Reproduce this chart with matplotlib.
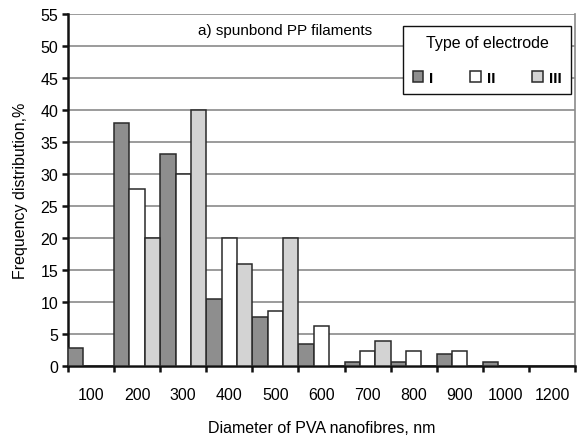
import matplotlib.pyplot as plt
import numpy as np
from matplotlib.patches import Patch

plt.rcParams['font.family'] = ['Liberation Sans', 'DejaVu Sans']

# diameter classes (nm) and frequency (%) per electrode type
diameters = ['100', '200', '300', '400', '500', '600', '700', '800', '900', '1000', '1200']
type_I = [2.8, 38.0, 33.2, 10.5, 7.7, 3.4, 0.7, 0.7, 1.9, 0.7, 0]
type_II = [0, 27.6, 30.0, 20.0, 8.6, 6.3, 2.4, 2.4, 2.4, 0, 0]
type_III = [0, 20.0, 40.0, 16.0, 20.0, 0, 3.9, 0, 0, 0, 0]
series_labels = ['I', 'II', 'III']

fig = plt.figure(figsize=(5.79, 4.39), dpi=100)
ax = fig.add_axes([68 / 579, 1 - 367 / 439, 507 / 579, 352 / 439])

n = len(diameters)
x = np.arange(n)
w = 1 / 3
colors = ['#8e8e8e', 'white', '#d3d3d3']
for i, (vals, col) in enumerate(zip([type_I, type_II, type_III], colors)):
    ax.bar(x + i * w, vals, width=w, align='edge', color=col,
           edgecolor='#2a2a2a', linewidth=1.1, zorder=3)

ax.set_xlim(0, n)
ax.set_ylim(0, 55)
ax.set_yticks(np.arange(0, 56, 5))
ax.yaxis.grid(True, color='#8a8a8a', linewidth=1.2, zorder=0)
ax.set_axisbelow(True)

# boundary ticks without labels, labels at category centres
ax.set_xticks(np.arange(0, n + 1))
ax.set_xticklabels([])
ax.set_xticks(x + 0.5, minor=True)
ax.set_xticklabels(diameters, minor=True, fontsize=11.5)
ax.tick_params(axis='x', which='major', length=4, width=1.8, color='#111111')
ax.tick_params(axis='x', which='minor', length=0, pad=15)
ax.tick_params(axis='y', length=4, width=1.8, color='#111111', labelsize=11.5, pad=3)

for s in ['left', 'bottom']:
    ax.spines[s].set_linewidth(1.8)
    ax.spines[s].set_color('#111111')
ax.spines['top'].set_visible(False)
ax.spines['right'].set_color('#8a8a8a')
ax.spines['right'].set_linewidth(1.2)

ax.set_xlabel('Diameter of PVA nanofibres, nm', fontsize=11.5, labelpad=13)
ax.set_ylabel('Frequency distribution,%', fontsize=11.5, labelpad=9)

ax.text(4.72, 52.5, 'a) spunbond PP filaments', ha='center', va='center', fontsize=11)

handles = [Patch(facecolor=c, edgecolor='#2a2a2a', linewidth=1.1) for c in colors]
leg = ax.legend(handles, series_labels, title='Type of electrode', ncol=3,
                loc='upper right', bbox_to_anchor=(0.992, 0.966), borderaxespad=0,
                frameon=True, fancybox=False, framealpha=1, edgecolor='#111111',
                handlelength=0.7, handleheight=0.7, handletextpad=0.4,
                columnspacing=2.4, borderpad=0.6, labelspacing=0.5,
                prop={'weight': 'bold', 'size': 11}, title_fontsize=11.5)
leg.get_frame().set_linewidth(1.0)
leg._legend_box.sep = 15

fig.savefig('out.png', dpi=100)
